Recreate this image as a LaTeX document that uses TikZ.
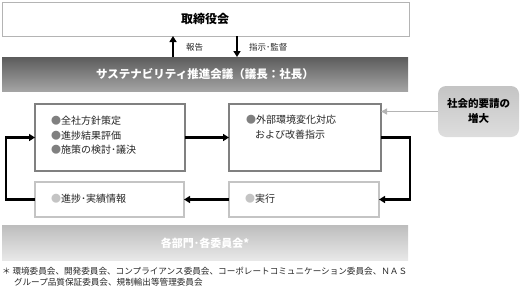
\documentclass[tikz,border=0pt]{standalone}
\usepackage{fontspec}
\setmainfont{Noto Sans CJK JP}
\usetikzlibrary{arrows.meta,calc}
\definecolor{bandtop}{HTML}{5C5C5C}
\definecolor{bandbot}{HTML}{A4A4A4}
\definecolor{lowtop}{HTML}{BDBDBD}
\definecolor{lowbot}{HTML}{E8E8E8}
\definecolor{soctop}{HTML}{C4C4C4}
\definecolor{socbot}{HTML}{DEDEDE}
\definecolor{darkedge}{HTML}{808080}
\definecolor{lightedge}{HTML}{C4C4C4}
\definecolor{topedge}{HTML}{B4B4B4}
\tikzset{
  every node/.style={inner sep=0pt, outer sep=0pt},
  topbox/.style={draw=topedge, line width=0.8pt, fill=white, anchor=north west},
  band/.style={anchor=north west, top color=bandtop, bottom color=bandbot, draw=none},
  lowband/.style={anchor=north west, top color=lowtop, bottom color=lowbot, draw=none},
  darkbox/.style={draw=darkedge, line width=2pt, fill=white, anchor=north west},
  lightbox/.style={draw=lightedge, line width=2pt, fill=white, anchor=north west},
  socbox/.style={anchor=north west, rounded corners=8pt, top color=soctop, bottom color=socbot, draw=none},
  txt/.style={anchor=west, font=\fontsize{10pt}{12pt}\selectfont, text=black!85},
  lbl/.style={anchor=west, font=\fontsize{8.5pt}{10pt}\selectfont, text=black!85},
  loopline/.style={line width=2.3pt, -{Triangle[length=6pt,width=7pt]}},
  vline/.style={line width=2pt, -{Triangle[length=6pt,width=7pt]}},
  grayline/.style={draw=topedge, line width=1.5pt, -{Triangle[length=6pt,width=6pt]}},
  note/.style={anchor=west, font=\fontsize{8.6pt}{10pt}\selectfont, text=black!85}
}
\begin{document}
\begin{tikzpicture}[x=1pt,y=-1pt]
\useasboundingbox (0,0) rectangle (526,287);
% top box
\node[topbox, minimum width=407pt, minimum height=34pt] (board) at (2,2) {};
\node[font=\bfseries\fontsize{12pt}{14pt}\selectfont] (boardt) at (205,19) {取締役会};
% dark band
\node[band, minimum width=406pt, minimum height=34pt] (sc) at (2,57) {};
\node[font=\bfseries\fontsize{11.5pt}{14pt}\selectfont, text=white] (sct) at (205,74) {サステナビリティ推進会議（議長：社長）};
% arrows between
\coordinate (upb) at (173,57);
\coordinate (upt) at (173,36);
\coordinate (dnt) at (237,36);
\coordinate (dnb) at (237,57);
\draw[vline] (upb) -- (upt);
\draw[vline] (dnt) -- (dnb);
\node[lbl] (rep) at (186,47) {報告};
\node[lbl] (ins) at (249,47) {指示･監督};
% four boxes
\node[darkbox, minimum width=150pt, minimum height=67pt] (b1) at (35,104) {};
\node[darkbox, minimum width=152pt, minimum height=67pt] (b2) at (229,104) {};
\node[lightbox, minimum width=149pt, minimum height=35pt] (b3) at (35,182) {};
\node[lightbox, minimum width=150pt, minimum height=35pt] (b4) at (229,182) {};
\node[txt] (t11) at (51,121) {\textcolor{darkedge}{●}全社方針策定};
\node[txt] (t12) at (51,135.5) {\textcolor{darkedge}{●}進捗結果評価};
\node[txt] (t13) at (51,150) {\textcolor{darkedge}{●}施策の検討･議決};
\node[txt] (t21) at (246,120) {\textcolor{darkedge}{●}外部環境変化対応};
\node[txt] (t22) at (255,135) {および改善指示};
\node[txt] (t31) at (51,199) {\textcolor{lightedge}{●}進捗･実績情報};
\node[txt] (t41) at (245,199) {\textcolor{lightedge}{●}実行};
% loop connectors
\draw[loopline] (b1.east) -- (b2.west);
\draw[loopline] (b2.east) -- ++(29,0) |- (b4.east);
\draw[loopline] (b4.west) -- (b3.east);
\draw[loopline] (b3.west) -- ++(-29,0) |- (b1.west);
% social box
\node[socbox, minimum width=81pt, minimum height=51pt] (soc) at (438,86) {};
\node[font=\bfseries\fontsize{10.5pt}{15pt}\selectfont, align=center] (soct) at (soc.center) {社会的要請の\\増大};
\draw[grayline] (soc.west) -- (soc.west -| b2.east);
% lower band
\node[lowband, minimum width=406pt, minimum height=35pt] (dept) at (2,225) {};
\node[font=\bfseries\fontsize{11pt}{14pt}\selectfont, text=white] (deptt) at (205,243) {各部門･各委員会*};
% footnote
\node[note] (n1) at (2,271) {＊ 環境委員会、開発委員会、コンプライアンス委員会、コーポレートコミュニケーション委員会、ＮＡＳ};
\node[note] (n2) at (14,282) {グループ品質保証委員会、規制輸出等管理委員会};
\end{tikzpicture}
\end{document}
